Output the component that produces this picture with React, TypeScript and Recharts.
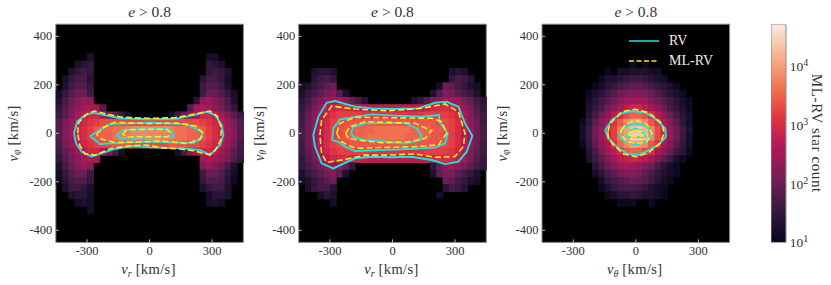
// App.tsx - three velocity histograms (e > 0.8) with RV / ML-RV contours

import { Bar, BarChart, CartesianGrid, Legend, Scatter, ScatterChart, XAxis, YAxis } from 'recharts';

const SERIF = '"Liberation Serif", serif';
const TEXT = '#333';
const FRAME = '#8a8a8a';
const CYAN = '#1fe3da';
const YELLOW = '#ffe81c';

const X_TICKS = [-300, 0, 300];
const Y_TICKS = [-400, -200, 0, 200, 400];
const DOMAIN: [number, number] = [-450, 450];
const BIN = 30;
const CBAR_TICKS = [10, 100, 1000, 10000];
const CBAR_RANGE: [number, number] = [10, 51000];
const CBAR_POWERS = ['1', '2', '3', '4'];

// rocket colormap, evenly spaced from 10 star counts to the top of the colour bar
const ROCKET = ['#03051a', '#35193e', '#701f57', '#ad1759', '#e13342', '#f37651', '#f6b48f', '#faebdd'];

// Histogram rows, top row first. First number = index of first bin, the rest = 10*log10(count), 0 = empty
const RPHI_TOP = 4;
const RPHI_ROWS = [
  [5, 13, 0, 0, 0, 0, 0, 0, 0, 0, 0, 0, 0, 0, 0, 0, 0, 0, 0, 0, 12, 12],
  [3, 13, 14, 15, 0, 0, 0, 0, 0, 0, 0, 0, 0, 0, 0, 0, 0, 0, 0, 0, 0, 0, 15, 14, 13],
  [2, 13, 15, 16, 15, 0, 0, 0, 0, 0, 0, 0, 0, 0, 0, 0, 0, 0, 0, 0, 0, 0, 0, 15, 16, 15, 13],
  [1, 12, 15, 17, 17, 14, 0, 0, 0, 0, 0, 0, 0, 0, 0, 0, 0, 0, 0, 0, 0, 0, 0, 14, 17, 17, 15, 12],
  [1, 13, 16, 18, 18, 15, 0, 0, 0, 0, 0, 0, 0, 0, 0, 0, 0, 0, 0, 0, 0, 0, 0, 16, 18, 18, 16, 13],
  [0, 12, 15, 18, 20, 20, 16, 0, 0, 0, 0, 0, 0, 0, 0, 0, 0, 0, 0, 0, 0, 0, 0, 0, 16, 20, 20, 18, 15, 12],
  [0, 13, 17, 20, 22, 24, 23, 0, 0, 0, 0, 0, 0, 0, 0, 0, 0, 0, 0, 0, 0, 0, 0, 14, 23, 24, 22, 20, 17, 13],
  [0, 15, 18, 21, 23, 25, 26, 25, 18, 0, 0, 0, 0, 0, 0, 0, 0, 0, 0, 0, 0, 0, 18, 25, 26, 25, 23, 21, 18, 15],
  [0, 16, 19, 22, 25, 27, 29, 29, 26, 23, 20, 16, 12, 0, 0, 0, 0, 0, 0, 12, 16, 20, 23, 26, 29, 29, 27, 25, 22, 19, 16],
  [0, 18, 21, 24, 27, 29, 31, 32, 33, 33, 33, 33, 33, 33, 33, 33, 33, 33, 33, 33, 33, 33, 33, 33, 32, 31, 29, 27, 24, 21, 18],
  [0, 18, 22, 25, 28, 30, 32, 34, 35, 35, 36, 36, 37, 38, 38, 38, 38, 38, 38, 37, 36, 36, 35, 35, 34, 32, 30, 28, 25, 22, 18],
  [0, 18, 22, 25, 28, 30, 32, 34, 35, 35, 36, 37, 37, 38, 38, 38, 38, 38, 37, 37, 36, 36, 35, 35, 34, 32, 30, 28, 25, 22, 18],
  [0, 17, 21, 24, 27, 29, 31, 32, 33, 33, 34, 34, 34, 33, 33, 33, 33, 33, 33, 34, 34, 34, 33, 33, 32, 31, 29, 27, 24, 21, 17],
  [0, 16, 19, 22, 25, 27, 29, 29, 26, 21, 17, 12, 0, 0, 0, 0, 0, 0, 0, 0, 12, 17, 21, 26, 29, 29, 27, 25, 22, 19, 16],
  [0, 15, 18, 21, 23, 25, 26, 25, 0, 0, 0, 0, 0, 0, 0, 0, 0, 0, 0, 0, 0, 0, 0, 0, 25, 26, 25, 23, 21, 18, 15],
  [0, 13, 17, 20, 22, 24, 22, 0, 0, 0, 0, 0, 0, 0, 0, 0, 0, 0, 0, 0, 0, 0, 0, 0, 22, 24, 22, 20, 17, 13],
  [0, 12, 15, 18, 20, 20, 16, 0, 0, 0, 0, 0, 0, 0, 0, 0, 0, 0, 0, 0, 0, 0, 0, 0, 16, 20, 20, 18, 15, 12],
  [0, 11, 14, 17, 18, 18, 15, 0, 0, 0, 0, 0, 0, 0, 0, 0, 0, 0, 0, 0, 0, 0, 0, 0, 15, 18, 18, 17, 14, 11],
  [1, 13, 16, 16, 15, 13, 0, 0, 0, 0, 0, 0, 0, 0, 0, 0, 0, 0, 0, 0, 0, 0, 0, 13, 15, 16, 16, 13],
  [2, 13, 14, 14, 12, 0, 0, 0, 0, 0, 0, 0, 0, 0, 0, 0, 0, 0, 0, 0, 0, 0, 0, 12, 14, 14, 13],
  [3, 12, 13, 12, 0, 0, 0, 0, 0, 0, 0, 0, 0, 0, 0, 0, 0, 0, 0, 0, 0, 0, 12, 13, 12],
  [5, 12],
];

const RTHETA_TOP = 6;
const RTHETA_ROWS = [
  [2, 13, 14, 14, 13, 0, 0, 0, 0, 0, 0, 0, 0, 0, 0, 0, 0, 0, 0, 0, 0, 0, 0, 13, 14, 13],
  [2, 14, 16, 17, 15, 0, 0, 0, 0, 0, 0, 0, 0, 0, 0, 0, 0, 0, 0, 0, 0, 0, 0, 15, 17, 16, 14],
  [0, 12, 13, 15, 17, 19, 20, 0, 0, 0, 0, 0, 0, 0, 0, 0, 0, 0, 0, 0, 0, 0, 0, 12, 20, 19, 17, 15, 13, 12],
  [0, 13, 15, 17, 19, 21, 22, 18, 13, 0, 0, 0, 0, 0, 0, 0, 0, 0, 0, 0, 0, 0, 13, 18, 22, 21, 19, 17, 15, 13],
  [0, 14, 16, 19, 21, 24, 25, 25, 23, 20, 17, 14, 0, 0, 0, 0, 0, 0, 0, 13, 15, 18, 21, 23, 25, 25, 24, 21, 19, 16, 14],
  [0, 15, 18, 21, 24, 27, 29, 30, 30, 29, 28, 27, 27, 27, 27, 27, 27, 27, 27, 27, 27, 28, 29, 30, 30, 29, 27, 24, 21, 18, 15],
  [0, 16, 19, 22, 26, 29, 31, 32, 32, 32, 32, 31, 31, 31, 31, 31, 31, 31, 31, 31, 31, 32, 32, 32, 32, 31, 29, 26, 22, 19, 16],
  [0, 16, 20, 23, 27, 30, 32, 33, 33, 34, 34, 34, 34, 34, 34, 34, 34, 34, 34, 34, 34, 34, 34, 33, 33, 32, 30, 27, 23, 20, 16],
  [0, 17, 20, 24, 27, 30, 32, 33, 34, 34, 35, 35, 35, 36, 36, 36, 36, 36, 36, 35, 35, 35, 34, 34, 33, 32, 30, 27, 24, 20, 17],
  [0, 17, 20, 24, 27, 30, 32, 33, 34, 35, 35, 35, 36, 36, 36, 36, 36, 36, 35, 35, 35, 35, 34, 34, 33, 32, 30, 27, 24, 20, 17],
  [0, 16, 20, 23, 27, 30, 32, 33, 33, 34, 34, 34, 34, 34, 34, 34, 34, 34, 34, 34, 34, 34, 34, 33, 33, 32, 30, 27, 23, 20, 16],
  [0, 16, 19, 22, 26, 29, 31, 32, 32, 32, 32, 32, 31, 31, 31, 31, 31, 31, 31, 31, 31, 32, 32, 32, 32, 31, 29, 26, 22, 19, 16],
  [0, 15, 18, 21, 24, 27, 29, 30, 30, 29, 28, 28, 27, 27, 27, 27, 27, 27, 27, 27, 27, 28, 29, 30, 30, 29, 27, 24, 21, 18, 15],
  [0, 15, 17, 19, 21, 23, 24, 23, 20, 15, 0, 0, 0, 0, 0, 0, 0, 0, 0, 0, 0, 0, 15, 20, 23, 24, 23, 21, 19, 17, 15],
  [0, 13, 15, 17, 19, 21, 22, 19, 13, 0, 0, 0, 0, 0, 0, 0, 0, 0, 0, 0, 0, 0, 13, 19, 22, 21, 19, 17, 15, 13],
  [0, 12, 13, 15, 17, 19, 20, 0, 0, 0, 0, 0, 0, 0, 0, 0, 0, 0, 0, 0, 0, 0, 0, 0, 20, 19, 17, 15, 13, 12],
  [1, 13, 15, 17, 17, 14, 0, 0, 0, 0, 0, 0, 0, 0, 0, 0, 0, 0, 0, 0, 0, 0, 0, 14, 17, 16, 14],
  [3, 12, 14, 13, 0, 0, 0, 0, 0, 0, 0, 0, 0, 0, 0, 0, 0, 0, 0, 0, 12],
  [5, 12],
];

const TPHI_TOP = 5;
const TPHI_ROWS = [
  [14, 11, 0, 11],
  [10, 11, 0, 12, 12, 13, 13, 13, 12, 12],
  [9, 11, 13, 13, 14, 15, 16, 16, 15, 14, 13, 12],
  [8, 11, 12, 14, 15, 17, 18, 19, 19, 18, 17, 15, 14, 13, 11],
  [7, 11, 13, 14, 16, 18, 20, 21, 22, 22, 21, 20, 18, 16, 14, 13, 11],
  [7, 12, 14, 16, 18, 20, 22, 24, 25, 25, 24, 22, 20, 18, 16, 14, 12, 11],
  [7, 13, 15, 17, 20, 23, 25, 27, 29, 29, 27, 25, 23, 20, 17, 15, 13, 11],
  [7, 14, 17, 20, 23, 27, 30, 33, 35, 35, 33, 30, 27, 23, 20, 17, 14, 12],
  [6, 11, 15, 19, 22, 26, 31, 34, 38, 40, 40, 38, 34, 31, 26, 22, 19, 15, 12],
  [6, 12, 16, 20, 24, 28, 32, 37, 40, 43, 44, 42, 38, 33, 28, 24, 20, 16, 13],
  [6, 12, 16, 20, 24, 28, 32, 37, 40, 44, 44, 43, 38, 33, 28, 24, 20, 16, 12],
  [6, 11, 15, 19, 23, 26, 31, 35, 38, 40, 40, 38, 34, 31, 26, 22, 18, 15, 12],
  [7, 14, 17, 21, 24, 27, 30, 34, 35, 35, 33, 30, 26, 23, 20, 16, 14, 11],
  [7, 13, 16, 19, 22, 25, 27, 28, 29, 28, 27, 25, 22, 19, 16, 13, 11],
  [8, 14, 17, 20, 22, 24, 25, 25, 24, 22, 20, 17, 14, 12, 11],
  [8, 12, 14, 17, 19, 21, 22, 22, 21, 19, 17, 15, 13, 12, 11],
  [9, 12, 15, 17, 18, 19, 20, 19, 18, 16, 14, 12, 11],
  [9, 11, 13, 15, 16, 17, 17, 16, 15, 13, 12, 11],
  [10, 11, 12, 14, 14, 15, 14, 13, 13, 12, 11],
  [12, 11, 11, 11, 0, 0, 11],
];

type Pt = [number, number];

// Contours, km/s. Each panel: outer, middle, inner
const RPHI_RV: Pt[][] = [
  [[-363, 0], [-347, 48], [-310, 75], [-270, 85], [-214, 75], [-142, 62], [2, 58], [130, 60], [210, 75], [274, 89], [314, 75], [346, 34], [354, -7], [338, -48], [290, -90], [242, -69], [162, -62], [2, -58], [-78, -52], [-174, -66], [-278, -96], [-326, -76], [-353, -41]],
  [[-286, -11], [-190, 38], [2, 44], [178, 38], [250, 7], [250, -20], [210, -40], [2, -34], [-166, -40], [-238, -44]],
  [[-158, -7], [-126, 14], [82, 20], [106, 7], [114, -14], [2, -16], [-142, -20]],
];
const RPHI_ML: Pt[][] = [
  [[-345, 0], [-340, 45], [-300, 80], [-265, 92], [-200, 78], [-130, 66], [0, 62], [120, 64], [210, 78], [290, 92], [325, 70], [345, 20], [340, -30], [315, -70], [285, -88], [210, -72], [150, -65], [60, -60], [-20, -48], [-100, -52], [-190, -64], [-260, -90], [-310, -85], [-335, -50]],
  [[-255, -5], [-220, 25], [-170, 45], [0, 40], [130, 42], [220, 30], [258, 0], [240, -25], [180, -42], [60, -32], [-60, -36], [-160, -38], [-230, -25]],
  [[-130, -3], [-110, 14], [0, 17], [85, 16], [100, 2], [88, -14], [0, -14], [-110, -14]],
];
const RTHETA_RV: Pt[][] = [
  [[-380, -7], [-356, 68], [-316, 126], [-276, 133], [-180, 110], [-100, 103], [-4, 100], [124, 103], [204, 126], [260, 130], [316, 110], [348, 41], [383, -11], [356, -76], [316, -117], [252, -127], [188, -110], [92, -97], [-4, -99], [-100, -97], [-180, -103], [-284, -145], [-340, -124], [-372, -55]],
  [[-289, -28], [-284, 20], [-252, 57], [-180, 68], [-100, 78], [12, 73], [140, 68], [223, 75], [225, 48], [265, 0], [252, -41], [204, -59], [76, -65], [-52, -69], [-180, -73], [-228, -55], [-260, -35]],
  [[-199, 0], [-188, 27], [-132, 41], [60, 44], [116, 20], [137, -7], [135, -28], [60, -42], [-20, -35], [-132, -28], [-188, -14]],
];
const RTHETA_ML: Pt[][] = [
  [[-348, -7], [-340, 55], [-292, 112], [-180, 100], [-20, 93], [140, 103], [252, 121], [316, 89], [348, 0], [340, -55], [300, -96], [204, -99], [108, -85], [-20, -90], [-132, -90], [-228, -108], [-316, -120], [-340, -83]],
  [[-268, 0], [-252, 41], [-180, 66], [12, 64], [188, 62], [236, 48], [260, 0], [220, -48], [108, -55], [-20, -58], [-180, -62], [-244, -35]],
  [[-225, 0], [-204, 27], [-132, 48], [108, 41], [188, 11], [156, -21], [76, -35], [-52, -39], [-164, -28], [-212, -21]],
];
const TPHI_RV: Pt[][] = [
  [[-147, 13], [-115, 55], [-67, 82], [-19, 92], [45, 86], [93, 61], [141, 20], [144, -14], [109, -48], [61, -69], [13, -90], [-43, -83], [-83, -62], [-131, -21]],
  [[-78, 0], [-59, 24], [-3, 41], [45, 30], [77, 7], [77, -14], [45, -35], [-3, -48], [-59, -30], [-75, -14]],
  [[-46, -14], [-27, 11], [-3, 20], [29, 11], [48, -14], [5, -17]],
];
const TPHI_ML: Pt[][] = [
  [[-134, 7], [-123, 41], [-67, 89], [-3, 99], [61, 85], [125, 41], [136, 0], [117, -41], [61, -79], [5, -97], [-59, -85], [-107, -48], [-131, -21]],
  [[-70, 13], [-43, 41], [5, 52], [53, 38], [77, 0], [53, -35], [5, -42], [-43, -35], [-70, -7]],
  [[-35, 0], [-3, 14], [37, 7], [37, -11], [-3, -14], [-35, -14]],
];

const PLOT_W = 187.6;
const PLOT_H = 218.2;
const PLOT_TOP = 24.2;
const CHART_H = 285;
const CELL_W = PLOT_W / 30;
const CELL_H = PLOT_H / 30;
const AXIS_BAND = 1; // an axis with zero size is not drawn at all

const hexToRgb = (h: string) => [1, 3, 5].map((i) => parseInt(h.slice(i, i + 2), 16));

// level is 10*log10(count); 10 -> bottom of the colour bar, 47 -> top
function levelColor(level: number) {
  const t = Math.min(Math.max((level - 10) / 37, 0), 1) * (ROCKET.length - 1);
  const i = Math.min(Math.floor(t), ROCKET.length - 2);
  const a = hexToRgb(ROCKET[i]);
  const b = hexToRgb(ROCKET[i + 1]);
  const c = a.map((v, k) => Math.round(v + (b[k] - v) * (t - i)));
  return `rgb(${c[0]},${c[1]},${c[2]})`;
}

function rowsToCells(rows: number[][], topRow: number) {
  const cells: { x: number; y: number; level: number }[] = [];
  rows.forEach((row, r) => {
    const first = row[0];
    row.slice(1).forEach((level, c) => {
      if (level > 0) {
        cells.push({
          x: DOMAIN[0] + (first + c + 0.5) * BIN,
          y: DOMAIN[1] - (topRow + r + 0.5) * BIN,
          level,
        });
      }
    });
  });
  return cells;
}

const closed = (pts: Pt[]) => [...pts, pts[0]].map(([x, y]) => ({ x, y }));

// slightly oversized so the black background only shows as a faint seam
const HeatCell = ({ cx, cy, payload }: any) => (
  <rect x={cx - CELL_W / 2} y={cy - CELL_H / 2} width={CELL_W + 0.6} height={CELL_H + 0.6} fill={levelColor(payload.level)} />
);

const NoPoint = () => null;

// inward tick marks with the label outside, tickSize is 0 so x/y sit on the axis line
const BottomTick = ({ x, y, payload }: any) => (
  <g>
    <line x1={x} x2={x} y1={y} y2={y - 3} stroke="#bbb" />
    <text x={x} y={y + 13} textAnchor="middle" fontSize={12.5} fontFamily={SERIF} fill={TEXT}>{payload.value}</text>
  </g>
);
const TopTick = ({ x, y }: any) => <line x1={x} x2={x} y1={y} y2={y + 3} stroke="#bbb" />;
const LeftTick = ({ x, y, payload }: any) => (
  <g>
    <line x1={x} x2={x + 3} y1={y} y2={y} stroke="#bbb" />
    <text x={x - 3.5} y={y + 4} textAnchor="end" fontSize={12.5} fontFamily={SERIF} fill={TEXT}>{payload.value}</text>
  </g>
);
const RightTick = ({ x, y }: any) => <line x1={x} x2={x - 3} y1={y} y2={y} stroke="#bbb" />;

const AxisVar = ({ sub }: { sub: string }) => (
  <>
    <tspan fontStyle="italic">v</tspan>
    <tspan fontStyle="italic" fontSize={10} dy={2.5}>{sub}</tspan>
    <tspan dy={-2.5} dx={4} letterSpacing={0.4}>[km/s]</tspan>
  </>
);

const LEGEND_ROWS = [
  { label: 'RV', color: CYAN, dash: undefined },
  { label: 'ML-RV', color: YELLOW, dash: '5 2.5' },
];

const LegendBox = () => (
  <div style={{ fontFamily: SERIF, fontSize: 14, color: '#eee' }}>
    {LEGEND_ROWS.map((row) => (
      <div key={row.label} style={{ display: 'flex', alignItems: 'center', height: 19.7 }}>
        <svg width={30} height={4} style={{ marginRight: 10 }}>
          <line x1={0} x2={30} y1={2} y2={2} stroke={row.color} strokeWidth={1.5} strokeDasharray={row.dash} />
        </svg>
        <span>{row.label}</span>
      </div>
    ))}
  </div>
);

interface PanelProps {
  left: number;
  plotLeft: number;
  width: number;
  rows: number[][];
  topRow: number;
  rv: Pt[][];
  ml: Pt[][];
  xSub: string;
  ySub: string;
  yLabelX: number;
  showLegend?: boolean;
}

function Panel({ left, plotLeft, width, rows, topRow, rv, ml, xSub, ySub, yLabelX, showLegend }: PanelProps) {
  const centerX = plotLeft + PLOT_W / 2;
  const centerY = PLOT_TOP + PLOT_H / 2;
  const axisProps = { type: 'number' as const, domain: DOMAIN, tickSize: 0, tickMargin: 0, tickLine: false, stroke: FRAME, interval: 0 as const };
  return (
    <div style={{ position: 'absolute', left, top: 0 }}>
      <ScatterChart
        width={width}
        height={CHART_H}
        margin={{
          top: PLOT_TOP - AXIS_BAND,
          left: plotLeft - AXIS_BAND,
          right: width - plotLeft - PLOT_W - AXIS_BAND,
          bottom: CHART_H - PLOT_TOP - PLOT_H - AXIS_BAND,
        }}
      >
        <CartesianGrid horizontal={false} vertical={false} fill="#000" fillOpacity={1} />
        <XAxis {...axisProps} dataKey="x" ticks={X_TICKS} height={AXIS_BAND} tick={<BottomTick />} />
        <XAxis {...axisProps} xAxisId="top" orientation="top" dataKey="x" ticks={X_TICKS} height={AXIS_BAND} tick={<TopTick />} />
        <YAxis {...axisProps} dataKey="y" ticks={Y_TICKS} width={AXIS_BAND} tick={<LeftTick />} />
        <YAxis {...axisProps} yAxisId="right" orientation="right" dataKey="y" ticks={Y_TICKS} width={AXIS_BAND} tick={<RightTick />} />
        <Scatter data={rowsToCells(rows, topRow)} shape={<HeatCell />} isAnimationActive={false} />
        {rv.map((pts, i) => (
          <Scatter key={`rv${i}`} data={closed(pts)} shape={<NoPoint />} line={{ stroke: CYAN, strokeWidth: 1.9 }} isAnimationActive={false} />
        ))}
        {ml.map((pts, i) => (
          <Scatter key={`ml${i}`} data={closed(pts)} shape={<NoPoint />} line={{ stroke: YELLOW, strokeWidth: 1.6, strokeDasharray: '6 3' }} isAnimationActive={false} />
        ))}
        {showLegend && (
          <Legend layout="vertical" align="center" verticalAlign="middle" content={<LegendBox />} wrapperStyle={{ left: plotLeft + 87, top: 31.5, width: 100, bottom: 'auto' }} />
        )}
        <text x={centerX} y={17} textAnchor="middle" fontSize={15.5} fontFamily={SERIF} fill={TEXT}>
          <tspan fontStyle="italic">e</tspan> &gt; 0.8
        </text>
        <text x={centerX - 1} y={274} textAnchor="middle" fontSize={14.5} fontFamily={SERIF} fill={TEXT}>
          <AxisVar sub={xSub} />
        </text>
        <text x={yLabelX} y={centerY} textAnchor="middle" fontSize={14.5} fontFamily={SERIF} fill={TEXT} transform={`rotate(-90 ${yLabelX} ${centerY})`}>
          <AxisVar sub={ySub} />
        </text>
      </ScatterChart>
    </div>
  );
}

const CbarTick = ({ x, y, index }: any) => (
  <text x={x + 4} y={y + 5} fontSize={13.5} fontFamily={SERIF} fill={TEXT}>
    10<tspan fontSize={10} dy={-5}>{CBAR_POWERS[index]}</tspan>
  </text>
);

function ColorBar() {
  const data = [{ name: 'count', range: CBAR_RANGE }];
  return (
    <div style={{ position: 'absolute', left: 771.3, top: 0 }}>
      <BarChart width={59} height={CHART_H} data={data} barCategoryGap={0} margin={{ top: PLOT_TOP, left: 0, right: 44.3 - AXIS_BAND, bottom: CHART_H - PLOT_TOP - PLOT_H }}>
        <defs>
          <linearGradient id="rocketBar" x1="0" x2="0" y1="1" y2="0">
            {ROCKET.map((c, i) => (
              <stop key={c} offset={i / (ROCKET.length - 1)} stopColor={c} />
            ))}
          </linearGradient>
        </defs>
        <XAxis dataKey="name" hide />
        <YAxis orientation="right" scale="log" domain={CBAR_RANGE} ticks={CBAR_TICKS} width={AXIS_BAND} tickSize={0} tickMargin={0} tickLine={false} axisLine={false} tick={<CbarTick />} interval={0} allowDataOverflow />
        <Bar dataKey="range" fill="url(#rocketBar)" stroke={FRAME} strokeWidth={1} isAnimationActive={false} />
        <text x={40.5} y={133.3} textAnchor="middle" fontSize={15} letterSpacing={0.6} fontFamily={SERIF} fill={TEXT} transform="rotate(90 40.5 133.3)">ML-RV star count</text>
      </BarChart>
    </div>
  );
}

export default function App() {
  return (
    <div style={{ position: 'absolute', left: 0, top: 0, width: 831, height: 285, background: '#fff', overflow: 'hidden' }}>
      <Panel left={0} plotLeft={55.8} width={250} rows={RPHI_ROWS} topRow={RPHI_TOP} rv={RPHI_RV} ml={RPHI_ML} xSub="r" ySub="φ" yLabelX={18} />
      <Panel left={250} plotLeft={48.7} width={245} rows={RTHETA_ROWS} topRow={RTHETA_TOP} rv={RTHETA_RV} ml={RTHETA_ML} xSub="r" ySub="θ" yLabelX={14} />
      <Panel left={485} plotLeft={57} width={250} rows={TPHI_ROWS} topRow={TPHI_TOP} rv={TPHI_RV} ml={TPHI_ML} xSub="θ" ySub="φ" yLabelX={22} showLegend />
      <ColorBar />
    </div>
  );
}
